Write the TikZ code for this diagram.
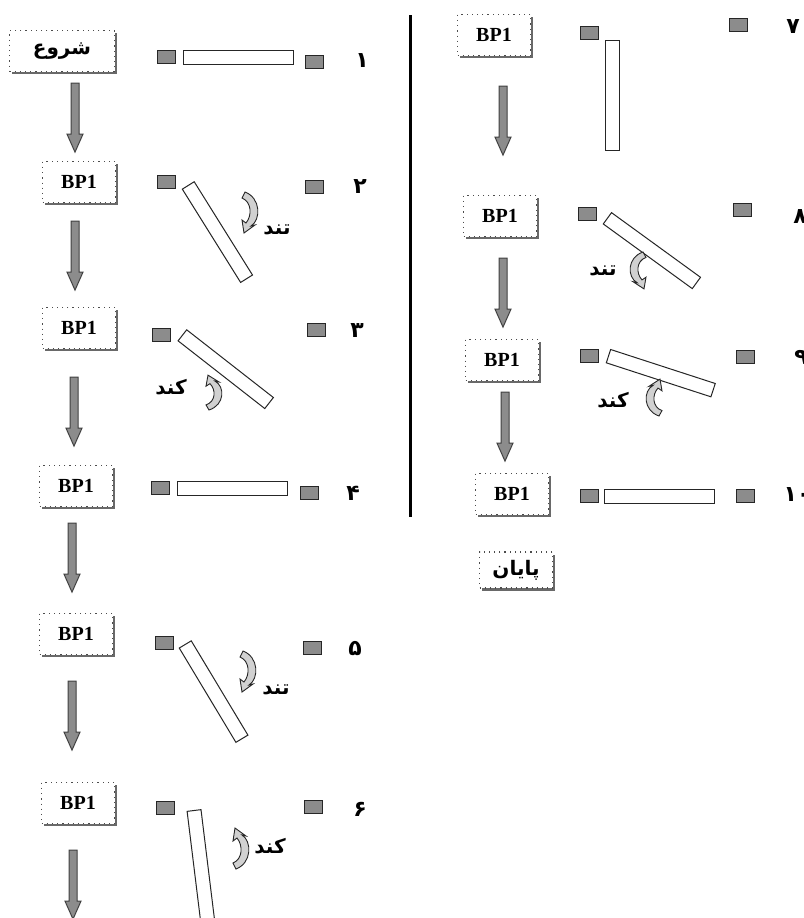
\documentclass[tikz,border=0pt]{standalone}
\usepackage{fontspec}
\setmainfont{Liberation Serif}
\newfontfamily\fafont[Script=Arabic]{DejaVu Sans}
\TeXXeTstate=1
\usetikzlibrary{positioning}
\usetikzlibrary{calc}
\usetikzlibrary{shadows}
\tikzset{
  stepbox/.style={draw=black!70, dotted, line width=0.6pt, fill=white,
    minimum width=36.5pt, minimum height=20.5pt, inner sep=1pt,
    drop shadow={shadow xshift=1.3pt, shadow yshift=-1.3pt, fill=black!65, opacity=0.9},
    font=\bfseries\fontsize{10}{12}\selectfont},
  pad/.style={draw=black!85, fill=black!45, line width=0.5pt,
    minimum width=9pt, minimum height=6.5pt, inner sep=0pt},
  bar/.style={draw=black!85, fill=white, line width=0.5pt,
    minimum width=55pt, minimum height=7pt, inner sep=0pt, anchor=west},
  numlabel/.style={font=\fafont\bfseries\fontsize{11}{13}\selectfont, inner sep=0pt},
  speed/.style={font=\fafont\bfseries\fontsize{10}{12}\selectfont, inner sep=0pt},
  turn/.style={draw=black!85, fill=black!18, line width=0.45pt},
  % block arrow of fixed length, #1 = gap below the upper box
  flow/.style={draw=black!75, fill=black!45, line width=0.5pt,
    to path={let \p1=(\tikztostart) in
      (\x1-2pt,\y1-#1) -- (\x1+2pt,\y1-#1) -- (\x1+2pt,\y1-#1-25.5pt)
      -- (\x1+4pt,\y1-#1-25.5pt) -- (\x1,\y1-#1-34.5pt) -- (\x1-4pt,\y1-#1-25.5pt)
      -- (\x1-2pt,\y1-#1-25.5pt) -- cycle}},
  flow/.default=5pt
}
% curved turn arrow: centre, xscale, yscale
\newcommand\turnmark[3]{
  \path[turn, shift={(#1)}, xscale=#2, yscale=#3]
    (-4,-20) .. controls (12,-14) and (12,8) .. (2,14) -- (6,13) -- (-5,21)
    -- (-7,8) -- (-3,11) .. controls (3,4) and (3,-10) .. (-7,-14) -- cycle;
}

\begin{document}
\begin{tikzpicture}[x=0.5pt, y=-0.5pt]
  \useasboundingbox (0,0) rectangle (804,918);

  % left column
  \node[stepbox, minimum width=52.5pt] (start) at (62,51) {\fafont\beginR شروع\endR};
  \node[stepbox] (bp2) at (79,182) {BP1};
  \node[stepbox] (bp3) at (79,328) {BP1};
  \node[stepbox] (bp4) at (76,486) {BP1};
  \node[stepbox] (bp5) at (76,634) {BP1};
  \node[stepbox] (bp6) at (78,803) {BP1};
  \coordinate (off) at (73,935);

  \draw[flow=5.5pt] ([xshift=6.5pt]start.south) to (bp2.north);
  \draw[flow=9pt] ([xshift=-2pt]bp2.south) to (bp3.north);
  \draw[flow=14pt] ([xshift=-2.5pt]bp3.south) to (bp4.north);
  \draw[flow=8pt] ([xshift=-2pt]bp4.south) to (bp5.north);
  \draw[flow=13pt] ([xshift=-2pt]bp5.south) to (bp6.north);
  \draw[flow=13pt] ([xshift=-2.5pt]bp6.south) to (off);

  % right column
  \node[stepbox] (bp7) at (494,35) {BP1};
  \node[stepbox] (bp8) at (500,216) {BP1};
  \node[stepbox] (bp9) at (502,360) {BP1};
  \node[stepbox] (bp10) at (512,494) {BP1};
  \node[stepbox, minimum height=18pt] (finish) at (516,570) {\fafont\beginR پایان\endR};

  \draw[flow=15pt] ([xshift=4.5pt]bp7.south) to (bp8.north);
  \draw[flow=10.5pt] ([xshift=1.5pt]bp8.south) to (bp9.north);
  \draw[flow=5.5pt] ([xshift=1.5pt]bp9.south) to (bp10.north);

  \draw[line width=1.5pt] (410,15) -- (410,517);

  % pads
  \node[pad] (l1) at (166,57) {};   \node[pad] (r1) at (314,62) {};
  \node[pad] (l2) at (166,182) {};  \node[pad] (r2) at (314,187) {};
  \node[pad] (l3) at (161,335) {};  \node[pad] (r3) at (316,330) {};
  \node[pad] (l4) at (160,488) {};  \node[pad] (r4) at (309,493) {};
  \node[pad] (l5) at (164,643) {};  \node[pad] (r5) at (312,648) {};
  \node[pad] (l6) at (165,808) {};  \node[pad] (r6) at (313,807) {};
  \node[pad] (l7) at (589,33) {};   \node[pad] (r7) at (738,25) {};
  \node[pad] (l8) at (587,214) {};  \node[pad] (r8) at (742,210) {};
  \node[pad] (l9) at (589,356) {};  \node[pad] (r9) at (745,357) {};
  \node[pad] (l10) at (589,496) {}; \node[pad] (r10) at (745,496) {};

  % bars
  \node[bar] (bar1) at (183,57) {};
  \node[bar, rotate=-58] (bar2) at (188,185) {};
  \node[bar, rotate=-38] (bar3) at (182,335) {};
  \node[bar] (bar4) at (177,488) {};
  \node[bar, rotate=-59] (bar5) at (185,644) {};
  \node[bar, rotate=-83] (bar6) at (194,810) {};
  \node[bar, rotate=-90] (bar7) at (612,40) {};
  \node[bar, rotate=-36] (bar8) at (607,218) {};
  \node[bar, rotate=-18] (bar9) at (608,356) {};
  \node[bar] (bar10) at (604,496) {};

  % numbers
  \node[numlabel] (n1) at (362,61) {۱};
  \node[numlabel] (n2) at (360,187) {۲};
  \node[numlabel] (n3) at (357,331) {۳};
  \node[numlabel] (n4) at (353,493) {۴};
  \node[numlabel] (n5) at (355,649) {۵};
  \node[numlabel] (n6) at (360,809) {۶};
  \node[numlabel] (n7) at (793,27) {۷};
  \node[numlabel] (n8) at (800,217) {۸};
  \node[numlabel] (n9) at (801,357) {۹};
  \node[numlabel] (n10) at (797,495) {۱۰};

  % turning direction
  \turnmark{249,212}{1}{1}
  \node[speed] (s2) at (277,230) {\beginR تند\endR};
  \turnmark{213,393}{1}{-0.85}
  \node[speed] (s3) at (171,387) {\beginR کند\endR};
  \turnmark{247,671}{1}{1}
  \node[speed] (s5) at (276,690) {\beginR تند\endR};
  \turnmark{240,849}{1}{-1}
  \node[speed] (s6) at (270,846) {\beginR کند\endR};
  \turnmark{639,270}{-1}{0.9}
  \node[speed] (s8) at (603,271) {\beginR تند\endR};
  \turnmark{655,398}{-1}{-0.9}
  \node[speed] (s9) at (613,400) {\beginR کند\endR};
\end{tikzpicture}
\end{document}
